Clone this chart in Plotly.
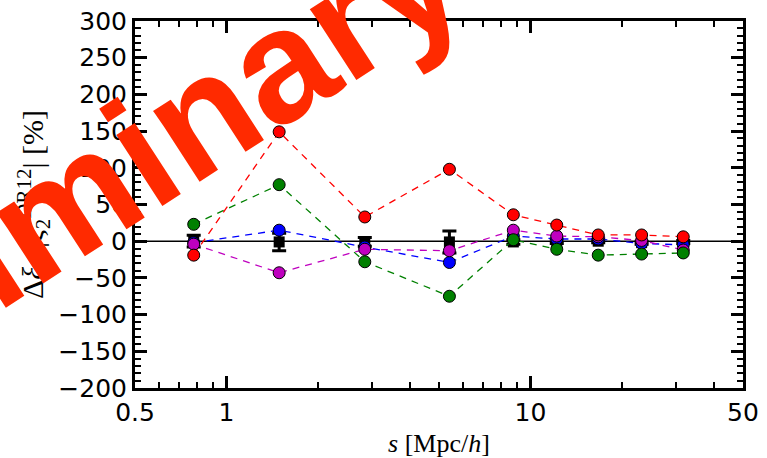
import numpy as np
import plotly.graph_objects as go

# separation bins s [Mpc/h]
s = [0.78, 1.49, 2.85, 5.41, 8.78, 12.2, 16.7, 23.2, 31.8]

# reference measurement (relative error band around zero)
ref_val = [0, -1, -1, -1, -1, 0, 0, -2, -1]
ref_err = [8, 12, 6, 15, 3, 3, 2, 2, 2]

# model deviations in percent
dev_blue = [-2, 15, -8, -29, 7, 3, 3, -3, -5]
dev_magenta = [-4, -43, -11, -13, 15, 7, 6, 1, -12]
dev_green = [23, 77, -28, -75, 2, -11, -19, -17.5, -16]
dev_red = [-19, 149, 33, 98, 36, 22, 8.5, 8.5, 6]

fig = go.Figure()

# zero reference line
fig.add_trace(go.Scatter(
    x=[0.5, 50], y=[0, 0], mode="lines",
    line=dict(color="black", width=1.5), showlegend=False, hoverinfo="skip"))

fig.add_trace(go.Scatter(
    x=s, y=ref_val, mode="markers",
    marker=dict(symbol="square", size=11, color="black"),
    error_y=dict(type="data", array=ref_err, color="black", thickness=3, width=7),
    showlegend=False))

for vals, col in [(dev_blue, "#0000ff"), (dev_magenta, "#bf00bf"),
                  (dev_green, "#008000"), (dev_red, "#ff0000")]:
    fig.add_trace(go.Scatter(
        x=s, y=vals, mode="lines+markers",
        line=dict(color=col, width=1.3, dash="7px,6px"),
        marker=dict(symbol="circle", size=12, color=col,
                    line=dict(color="black", width=1)),
        showlegend=False))

tickfont = dict(family="DejaVu Sans", size=25, color="black")

x_minor = [0.6, 0.7, 0.8, 0.9, 2, 3, 4, 5, 6, 7, 8, 9, 20, 30, 40]

fig.update_xaxes(
    type="log", range=[np.log10(0.5), np.log10(50)],
    tickvals=[0.5, 1, 10, 50], ticktext=["0.5", "1", "10", "50"],
    ticks="inside", ticklen=12, tickwidth=2.5, tickcolor="black",
    minor=dict(tickvals=x_minor, ticks="inside", ticklen=6, tickwidth=2, tickcolor="black"),
    showline=True, linecolor="black", linewidth=3, mirror="allticks",
    showgrid=False, zeroline=False, tickfont=tickfont, automargin=False,
    title=dict(text="<i>s</i> [Mpc/<i>h</i>]",
               font=dict(family="Liberation Serif", size=26, color="black"),
               standoff=10),
)

fig.update_yaxes(
    range=[-200, 300], tickvals=list(range(-200, 301, 50)),
    ticktext=[("\u2212" + str(-v)) if v < 0 else str(v) for v in range(-200, 301, 50)],
    ticks="inside", ticklen=12, tickwidth=2.5, tickcolor="black",
    minor=dict(dtick=10, ticks="inside", ticklen=6, tickwidth=2, tickcolor="black"),
    showline=True, linecolor="black", linewidth=3, mirror="allticks",
    showgrid=False, zeroline=False, tickfont=tickfont, automargin=False,
    title=dict(text="\u0394<i>\u03be</i><sub>2</sub>/|<i>\u03be</i><sub>2</sub><sup>DR12</sup>| [%]",
               font=dict(family="Liberation Serif", size=30, color="black"),
               standoff=6),
)

# watermark
fig.add_annotation(
    text="Preliminary", xref="paper", yref="paper",
    x=(78 - 135) / 608, y=(388 - 194) / 367, xanchor="center", yanchor="middle",
    textangle=-33, showarrow=False,
    font=dict(family="Liberation Sans", size=160, color="#ff2a00", weight="bold"),
)

fig.update_layout(
    width=767, height=458,
    margin=dict(l=135, r=24, t=21, b=70),
    plot_bgcolor="white", paper_bgcolor="white",
)

fig.write_html("out.html")
